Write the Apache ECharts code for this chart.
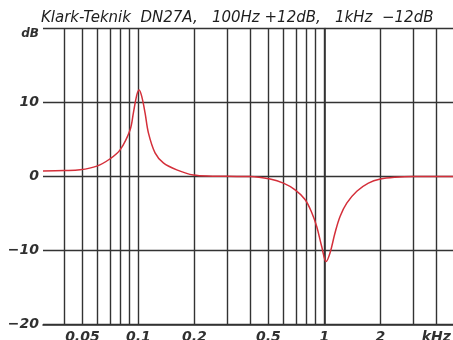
<!DOCTYPE html>
<html>
<head>
<meta charset="utf-8">
<script src="https://cdn.jsdelivr.net/npm/echarts@6/dist/echarts.min.js"></script>
<style>
  html, body { margin: 0; padding: 0; background: #fff; }
  #chart { width: 453px; height: 340px; }
</style>
</head>
<body>
<div id="chart"></div>
<script>
// Frequency response of a two-band setting: frequency in kHz, gain in dB
const freqKHz = [0.0307, 0.040, 0.0486, 0.0598, 0.0705, 0.0797, 0.0902, 0.0940, 0.0980, 0.1009,
  0.1043, 0.1086, 0.1132, 0.1229, 0.1362, 0.1608, 0.1976, 0.25, 0.30, 0.3986,
  0.5105, 0.602, 0.696, 0.787, 0.8557, 0.910, 0.968, 1.021, 1.073, 1.141,
  1.214, 1.319, 1.494, 1.724, 2.0, 2.4, 3.0, 5.0];
const gainDb = [0.75, 0.8, 0.9, 1.4, 2.4, 3.6, 6.3, 8.6, 11.0, 11.7,
  10.8, 8.6, 5.9, 3.2, 1.85, 0.9, 0.2, 0.05, 0.02, 0.0,
  -0.35, -0.9, -1.8, -3.1, -4.9, -6.8, -9.5, -11.5, -10.3, -7.6,
  -5.4, -3.6, -2.0, -0.9, -0.35, -0.1, 0.0, 0.0];

// Vertical grid lines (kHz) and the labelled ones
const gridFreqs = [0.04, 0.05, 0.06, 0.07, 0.08, 0.09, 0.1, 0.2, 0.3, 0.4, 0.5, 0.6, 0.7, 0.8, 0.9, 1, 2, 3, 4, 5];
const freqLabels = [[0.05, '0.05'], [0.1, '0.1'], [0.2, '0.2'], [0.5, '0.5'], [1, '1'], [2, '2'], [4, 'kHz']];
const dbLabels = { '-20': '\u221220', '-10': '\u221210', '0': '0', '10': '10', '20': 'dB' };

const xMin = 0.0307, xMax = 5;
const lg = v => Math.log10(v);

const chart = echarts.init(document.getElementById('chart'));
const labelFont = { fontFamily: 'DejaVu Sans', fontStyle: 'italic', fontWeight: 'bold', fontSize: 14, color: '#303030' };

chart.setOption({
  animation: false,
  backgroundColor: '#ffffff',
  title: {
    text: 'Klark-Teknik  DN27A,   100Hz +12dB,   1kHz  \u221212dB',
    left: 36, top: 6,
    textStyle: { fontFamily: 'DejaVu Sans', fontStyle: 'italic', fontWeight: 'normal', fontSize: 15, color: '#1e1e1e' }
  },
  grid: { left: 43, top: 28.5, width: 186 * lg(xMax / xMin), height: 296, outerBoundsMode: 'none', containLabel: false },
  xAxis: {
    type: 'value', min: lg(xMin), max: lg(xMax),
    axisLine: { show: true, onZero: false, lineStyle: { color: '#333', width: 1.6 } },
    axisTick: { show: false },
    splitLine: { show: false },
    axisLabel: {
      customValues: freqLabels.map(d => lg(d[0])),
      formatter: v => {
        const hit = freqLabels.find(d => Math.abs(lg(d[0]) - v) < 1e-6);
        return hit ? hit[1] : '';
      },
      margin: 6, ...labelFont
    }
  },
  yAxis: {
    type: 'value', min: -20, max: 20, interval: 10,
    axisLine: { show: true, lineStyle: { color: '#333', width: 1.6 } },
    axisTick: { show: false },
    splitLine: { show: true, lineStyle: { color: '#333', width: 1.4 } },
    axisLabel: {
      formatter: v => v === 20 ? '{u|dB}' : (dbLabels[String(v)] || ''),
      margin: 4,
      ...labelFont,
      rich: { u: { fontFamily: 'DejaVu Sans', fontStyle: 'italic', fontWeight: 'bold', fontSize: 12, color: '#303030', padding: [10, 0, 0, 0] } }
    }
  },
  series: [{
    type: 'line',
    smooth: 0.35,
    symbol: 'none',
    data: freqKHz.map((f, i) => [lg(f), gainDb[i]]),
    lineStyle: { color: '#d42f3a', width: 1.5 },
    z: 5,
    markLine: {
      silent: true, symbol: 'none', animation: false,
      label: { show: false },
      lineStyle: { color: '#333', width: 1.4, type: 'solid' },
      data: gridFreqs.map(f => ({ xAxis: lg(f) }))
    }
  }]
});
</script>
</body>
</html>
